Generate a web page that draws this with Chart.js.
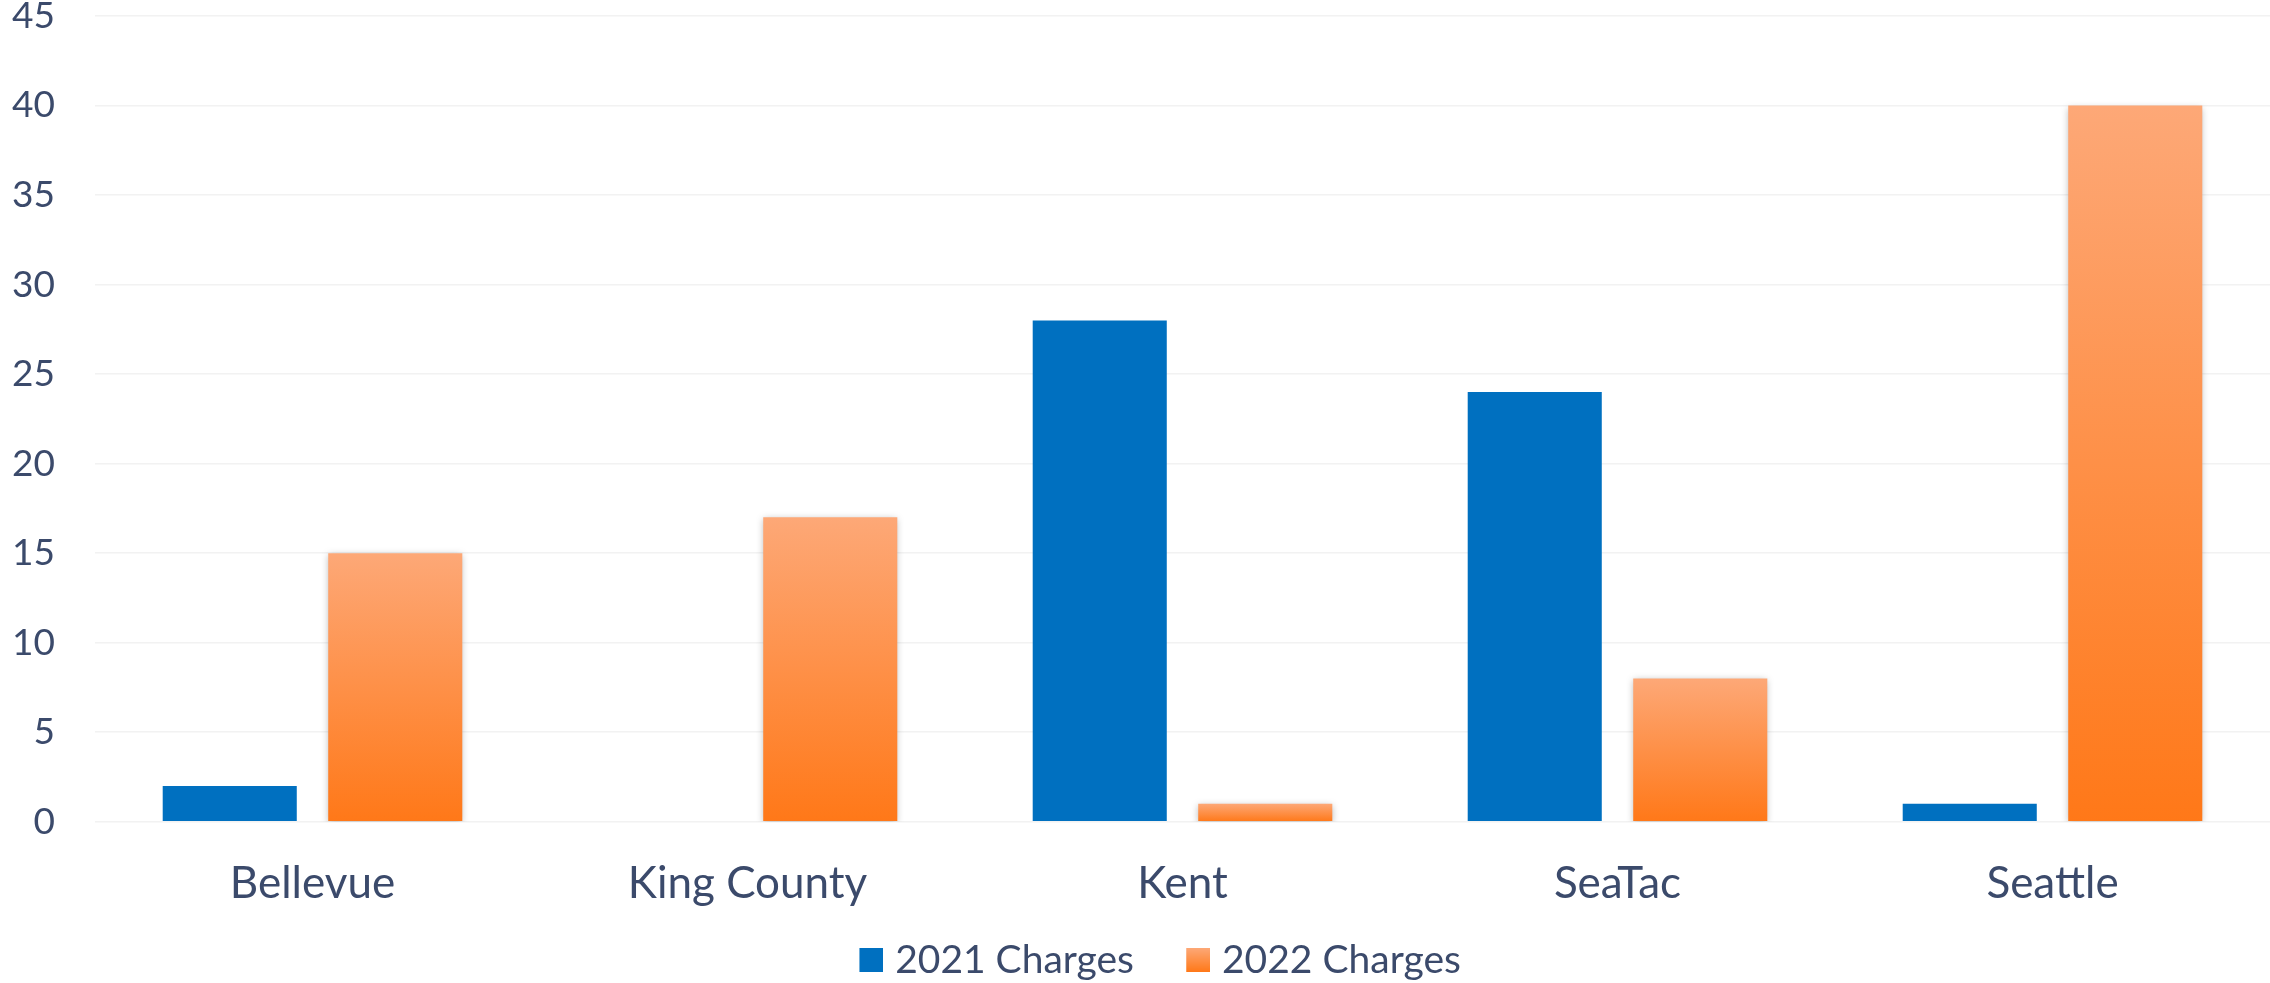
<!DOCTYPE html>
<html>
<head>
<meta charset="utf-8">
<script src="https://cdn.jsdelivr.net/npm/chart.js@4/dist/chart.umd.min.js"></script>
<style>
  html, body { margin: 0; padding: 0; background: #fff; }
  #wrap { width: 2270px; height: 983px; }
</style>
</head>
<body>
<div id="wrap"><canvas id="chart" width="2270" height="983"></canvas></div>
<script>
const categories = ['Bellevue', 'King County', 'Kent', 'SeaTac', 'Seattle'];
const charges2021 = [2, 0, 28, 24, 1];
const charges2022 = [15, 17, 1, 8, 40];
const yTicks = [0, 5, 10, 15, 20, 25, 30, 35, 40, 45];

const textColor = '#3b4a6b';
const blue = '#0070c0';
const orangeTop = '#fda877';
const orangeBottom = '#ff7818';

// gradient per bar, from bar top to the zero line
function orangeFill(c) {
    const chart = c.chart;
    if (!chart.chartArea || c.type !== 'data') return orangeBottom;
    const y = chart.scales.y;
    const top = y.getPixelForValue(c.raw);
    const base = y.getPixelForValue(0);
    if (base - top < 1) return orangeBottom;
    const g = chart.ctx.createLinearGradient(0, top, 0, base);
    g.addColorStop(0, orangeTop);
    g.addColorStop(1, orangeBottom);
    return g;
}

// legend swatch: 24px square sitting at the right of a wider transparent canvas
function legendSwatch(fill) {
    const cv = document.createElement('canvas');
    cv.width = 82; cv.height = 24;
    const cx = cv.getContext('2d');
    if (fill === 'gradient') {
        const g = cx.createLinearGradient(0, 0, 0, 24);
        g.addColorStop(0, orangeTop);
        g.addColorStop(1, orangeBottom);
        cx.fillStyle = g;
    } else {
        cx.fillStyle = fill;
    }
    cx.fillRect(58, 0, 24, 24);
    return cv;
}
const swatches = [legendSwatch(blue), legendSwatch('gradient')];

// soft shadow under the orange bars
const barShadow = {
    id: 'barShadow',
    beforeDatasetDraw(chart, args) {
        if (args.index !== 1) return;
        const ctx = chart.ctx;
        ctx.save();
        ctx.shadowColor = 'rgba(0,0,0,0.28)';
        ctx.shadowBlur = 7;
        ctx.shadowOffsetY = 2;
    },
    afterDatasetDraw(chart, args) {
        if (args.index !== 1) return;
        chart.ctx.restore();
    }
};

new Chart(document.getElementById('chart'), {
    type: 'bar',
    data: {
        labels: categories,
        datasets: [
            { label: '2021 Charges', data: charges2021, backgroundColor: blue },
            { label: '2022 Charges', data: charges2022, backgroundColor: orangeFill }
        ]
    },
    options: {
        responsive: false,
        animation: false,
        datasets: { bar: { categoryPercentage: 0.761, barPercentage: 0.81 } },
        layout: { padding: { top: 16, right: 0, bottom: -6.5, left: 0 } },
        plugins: {
            tooltip: { enabled: false },
            legend: {
                position: 'bottom',
                labels: {
                    color: textColor,
                    font: { family: 'Lato', size: 39 },
                    usePointStyle: true,
                    pointStyleWidth: 66.5,
                    padding: 2,
                    generateLabels(chart) {
                        return chart.data.datasets.map((ds, i) => ({
                            text: ds.label,
                            pointStyle: swatches[i],
                            fontColor: textColor,
                            lineWidth: 0,
                            hidden: false,
                            datasetIndex: i
                        }));
                    }
                }
            }
        },
        scales: {
            x: {
                grid: { display: false },
                border: { display: false },
                ticks: { color: textColor, font: { family: 'Lato', size: 44 }, padding: 28 }
            },
            y: {
                min: 0,
                max: 45,
                afterFit(s) { s.width = 95; s.paddingTop = 0; s.paddingBottom = 0; },
                afterBuildTicks(s) { s.ticks = yTicks.map(v => ({ value: v })); },
                grid: { color: '#f2f2f2', lineWidth: 1.5, drawTicks: false },
                border: { display: false },
                ticks: { color: textColor, font: { family: 'Lato', size: 37 }, padding: 40 }
            }
        }
    },
    plugins: [barShadow]
});
</script>
</body>
</html>
